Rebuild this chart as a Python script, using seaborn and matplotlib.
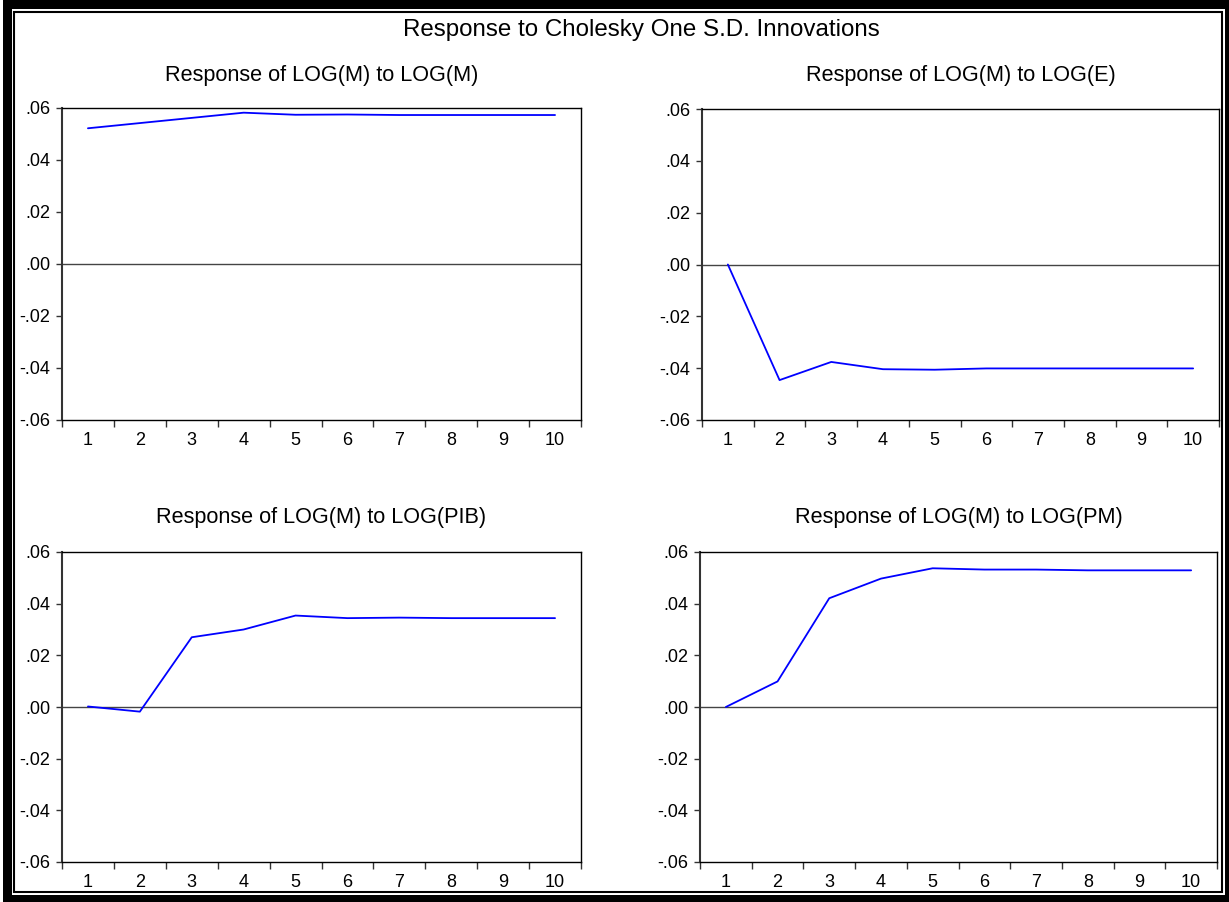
import numpy as np
import pandas as pd
import seaborn as sns
import matplotlib
matplotlib.use("Agg")
import matplotlib.pyplot as plt
from matplotlib.patches import Rectangle
from matplotlib.ticker import FuncFormatter, FixedLocator

# ---------------- data ----------------
periods = [1, 2, 3, 4, 5, 6, 7, 8, 9, 10]
resp_m_to_m = [0.0522, 0.0542, 0.0562, 0.0582, 0.0574, 0.0575, 0.0573, 0.0573, 0.0573, 0.0573]
resp_m_to_e = [0.0, -0.0446, -0.0376, -0.0404, -0.0406, -0.0401, -0.0401, -0.0401, -0.0401, -0.0401]
resp_m_to_pib = [0.0002, -0.0018, 0.0270, 0.0300, 0.0354, 0.0344, 0.0346, 0.0344, 0.0344, 0.0344]
resp_m_to_pm = [0.0, 0.0099, 0.0421, 0.0497, 0.0537, 0.0532, 0.0532, 0.0529, 0.0529, 0.0529]
panel_titles = ["Response of LOG(M) to LOG(M)", "Response of LOG(M) to LOG(E)",
                "Response of LOG(M) to LOG(PIB)", "Response of LOG(M) to LOG(PM)"]
main_title = "Response to Cholesky One S.D. Innovations"
y_ticks = [-0.06, -0.04, -0.02, 0.0, 0.02, 0.04, 0.06]

sns.set_style("white")
plt.rcParams['font.family'] = ['Liberation Sans', 'DejaVu Sans']
plt.rcParams['text.color'] = 'black'
plt.rcParams['xtick.color'] = 'black'
plt.rcParams['ytick.color'] = 'black'
plt.rcParams['xtick.labelcolor'] = 'black'
plt.rcParams['ytick.labelcolor'] = 'black'

W, H = 1229, 902
fig = plt.figure(figsize=(W / 100, H / 100), dpi=100)

def fx(x):
    return x / W

def fy(y):
    return 1 - y / H

# frame
fig.patches.append(Rectangle((fx(3), fy(902)), fx(1229) - fx(3), fy(0) - fy(902),
                             transform=fig.transFigure, facecolor='black', edgecolor='none', zorder=-3))
fig.patches.append(Rectangle((fx(12), fy(895)), fx(1225) - fx(12), fy(9) - fy(895),
                             transform=fig.transFigure, facecolor='white', edgecolor='none', zorder=-2))
fig.patches.append(Rectangle((fx(14), fy(892)), fx(1222) - fx(14), fy(12) - fy(892),
                             transform=fig.transFigure, facecolor='none', edgecolor='black',
                             linewidth=1.5, zorder=-1))

# axes boxes in pixels (left, top, right, bottom)
boxes = [(62, 108, 581, 420), (702, 109, 1219, 420), (62, 552, 581, 862), (700, 552, 1217, 862)]
series = [resp_m_to_m, resp_m_to_e, resp_m_to_pib, resp_m_to_pm]

fmt = FuncFormatter(lambda v, p: f"{v:.2f}".replace("0.", ".", 1))

for (l, t, r, b), vals, ttl in zip(boxes, series, panel_titles):
    ax = fig.add_axes([fx(l), fy(b), fx(r) - fx(l), fy(t) - fy(b)])
    df = pd.DataFrame({"period": periods, "response": vals})
    sns.lineplot(data=df, x="period", y="response", ax=ax, color="#0000FF", linewidth=1.3)
    ax.axhline(0, color="#444444", linewidth=1.0, zorder=1)
    ax.set_xlim(0.5, 10.5)
    ax.set_ylim(-0.06, 0.06)
    ax.set_xlabel("")
    ax.set_ylabel("")
    ax.set_yticks(y_ticks)
    ax.yaxis.set_major_formatter(fmt)
    ax.xaxis.set_major_locator(FixedLocator([p - 0.5 for p in periods] + [10.5]))
    ax.xaxis.set_major_formatter(FuncFormatter(lambda v, p: ""))
    ax.xaxis.set_minor_locator(FixedLocator(periods))
    ax.xaxis.set_minor_formatter(FuncFormatter(lambda v, p: f"{int(round(v))}"))
    ax.tick_params(axis="x", which="major", direction="out", length=5, width=1, color="#333333",
                   bottom=True)
    ax.tick_params(axis="x", which="minor", length=0, pad=8.5, labelsize=13, bottom=True)
    ax.tick_params(axis="y", which="major", direction="out", length=4.5, width=1, color="#333333",
                   pad=4, labelsize=13, left=True)
    for s in ax.spines.values():
        s.set_color("black")
        s.set_linewidth(1.0)
    ax.spines["left"].set_color("#333333")
    ax.spines["left"].set_linewidth(1.5)
    fig.text(fx((l + r) / 2), fy(75 if t < 300 else 517), ttl, ha="center", va="center",
             fontsize=15.6, color="black")

fig.text(fx(641), fy(30), main_title, ha="center", va="center", fontsize=17.4, color="black")

fig.savefig("out.png", dpi=100)
